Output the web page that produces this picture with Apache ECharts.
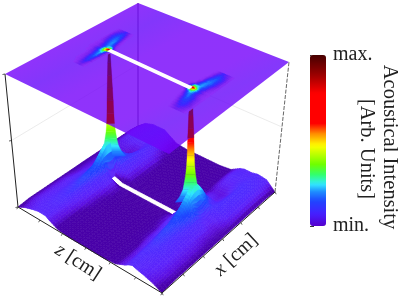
<!DOCTYPE html>
<html>
<head>
<meta charset="utf-8">
<style>html,body{margin:0;padding:0;background:#fff}#c{width:399px;height:297px;filter:blur(.35px)}</style>
<script src="https://cdn.jsdelivr.net/npm/echarts@6/dist/echarts.min.js"></script>
</head>
<body>
<div id="c"></div>
<script>
// ---------- data ----------
const zGrid = [0,.06,.12,.16,.19,.21,.24,.3,.38,.46,.54,.62,.7,.76,.79,.81,.84,.88,.94,1];
const xGrid = [0,.08,.16,.24,.32,.4,.45,.485,.515,.55,.6,.68,.76,.84,.92,1];
// floor-plane intensity in percent; one row per xGrid value, one column per zGrid value
const floorIntensity = [
[0,3,5,6,6,6,4,1,0,0,0,0,1,4,6,7,6,5,3,0],
[1,4,6,7,7,7,4,1,0,0,0,0,1,4,8,8,7,6,4,1],
[1,4,6,8,9,9,5,1,0,0,0,0,1,5,9,10,9,7,4,1],
[1,4,6,9,10,11,6,2,0,0,0,0,2,6,11,12,10,7,4,1],
[1,4,7,10,13,13,7,2,0,0,0,0,2,7,13,14,11,7,4,1],
[1,3,7,11,16,16,9,3,0,0,0,0,3,10,18,18,14,8,3,1],
[1,3,6,13,22,22,10,3,0,0,0,0,3,12,24,24,17,8,3,1],
[1,3,6,13,26,26,2,0,0,0,0,0,0,2,28,28,14,6,3,1],
[1,3,6,13,26,26,2,0,0,0,0,0,0,2,28,28,14,6,3,1],
[1,3,5,12,21,21,11,4,0,0,0,0,3,12,23,23,16,7,4,1],
[1,3,4,6,13,15,12,4,0,0,0,0,2,9,14,14,9,9,6,1],
[1,3,3,2,4,6,10,5,0,0,0,0,1,5,5,4,5,9,7,1],
[1,4,4,3,3,5,8,5,0,0,0,0,1,3,3,3,4,9,8,1],
[1,5,6,6,6,6,7,3,0,0,0,0,1,5,5,5,7,9,8,1],
[1,6,7,7,7,7,6,2,0,0,0,0,1,6,7,7,7,8,7,1],
[0,5,7,7,7,7,5,1,0,0,0,0,1,5,6,6,6,7,6,0]
];
const peakZ = [.212,.795];
const peakX = [.52,.49];
const peakTopZ = [.226,.762];
const peakTopX = [.496,.478];
const peakHeight = [.16,.2,.25,.3,.36,.42,.5,.6,.63,.7,.8,.9,1];
const peakHalfWidth = [.056,.04,.028,.023,.018,.015,.013,.0115,.011,.0095,.0075,.0055,.003];
const peakPlaneEdge = [.42,.63];
const peakSeenThrough = [[150,0,70],[85,10,140]];
const slitZ = [.24,.76];
const slitX = [.485,.515];
const planeZGridA = [.116,.146,.176,.196,.211,.226,.241,.256,.286];
const planeXGridA = [.296,.356,.416,.456,.481,.496,.511,.536,.576,.636,.696];
const planeZGridB = [.702,.732,.747,.762,.777,.792,.812,.842,.872];
const planeXGridB = [.288,.348,.408,.448,.473,.488,.503,.528,.568,.628,.688];
const planeIntensityA = [
[0,0,0,2,3,1,0,0,0],
[0,0,2,8,11,5,0,0,0],
[0,0,4,14,19,9,0,0,0],
[0,1,7,18,24,10,0,0,0],
[0,2,11,30,42,22,2,0,0],
[0,1,6,32,62,100,20,0,0],
[0,2,8,20,30,40,8,0,0],
[0,1,14,20,18,8,0,0,0],
[0,6,18,21,11,2,0,0,0],
[0,9,17,11,4,0,0,0,0],
[0,3,7,3,0,0,0,0,0]
];
const planeIntensityB = [
[0,0,0,0,0,1,3,2,0],
[0,0,0,0,2,7,11,6,0],
[0,0,0,2,9,18,14,4,0],
[0,0,0,10,22,20,8,1,0],
[0,0,12,42,40,26,12,2,0],
[0,0,20,100,62,32,8,1,0],
[0,0,10,42,32,22,12,2,0],
[0,0,0,8,18,22,16,3,0],
[0,0,0,1,10,20,19,7,0],
[0,0,0,0,3,10,17,9,0],
[0,0,0,0,0,3,7,3,0]
];
const axisTicks = [0,1/6,2/6,3/6,4/6,5/6,1];
const heightTicks = [0,.5,1];
const colorStops = [[0,[85,0,205]],[.07,[70,30,255]],[.147,[30,70,255]],[.2,[30,140,255]],[.245,[50,235,255]],[.3,[50,255,110]],[.36,[110,255,0]],[.47,[255,255,0]],[.54,[255,140,0]],[.6,[255,0,0]],[.775,[255,0,0]],[.89,[150,0,0]],[1,[70,0,0]]];
const floorStops = [[0,[72,0,168]],[.014,[72,0,172]],[.03,[92,15,225]],[.05,[92,35,250]],[.09,[78,45,255]],[.13,[45,70,255]]];
const barLabels = {0:'min.',0.5:'',1:'max.'};

// ---------- view of the box ----------
const floorC = {L:[18,207],F:[162,293],R:[275,192],B:[138,126]};
const topC   = {L:[5,74],F:[169,154],R:[289,62],B:[138,3]};
function homography(c){
  const dx1=c.F[0]-c.R[0],dx2=c.B[0]-c.R[0],sx=c.L[0]-c.F[0]+c.R[0]-c.B[0];
  const dy1=c.F[1]-c.R[1],dy2=c.B[1]-c.R[1],sy=c.L[1]-c.F[1]+c.R[1]-c.B[1];
  const den=dx1*dy2-dx2*dy1;
  const g=(sx*dy2-dx2*sy)/den,h=(dx1*sy-sx*dy1)/den;
  const a=c.F[0]-c.L[0]+g*c.F[0],b=c.B[0]-c.L[0]+h*c.B[0];
  const d=c.F[1]-c.L[1]+g*c.F[1],e=c.B[1]-c.L[1]+h*c.B[1];
  return (s,t)=>{const w=g*s+h*t+1;return [(a*s+b*t+c.L[0])/w,(d*s+e*t+c.L[1])/w];};
}
const HF=homography(floorC),HT=homography(topC);
function proj(s,t,v){const p=HF(s,t),q=HT(s,t);return [p[0]+(q[0]-p[0])*v,p[1]+(q[1]-p[1])*v];}

function ramp(stops,v){
  if(v<=stops[0][0])return stops[0][1];
  for(let i=1;i<stops.length;i++){
    if(v<=stops[i][0]){const a=stops[i-1],b=stops[i],f=(v-a[0])/(b[0]-a[0]);
      return a[1].map((x,k)=>x+(b[1][k]-x)*f);}
  }
  return stops[stops.length-1][1];
}
const rgb=c=>'rgb('+c.map(Math.round).join(',')+')';
const palette=v=>rgb(ramp(colorStops,v));
const floorColor=v=>rgb(v<.13?ramp(floorStops,v):ramp(colorStops,v));
const planeBase=[116,0,250],planeAlpha=.8;
const planeOverWhite=planeBase.map(x=>x*planeAlpha+255*(1-planeAlpha));
function planeCellColor(v){
  const c=ramp(colorStops,v),f=Math.min(1,v/.08);
  return rgb(planeOverWhite.map((x,k)=>x+(c[k]-x)*f));
}

// ---------- drawing list, back to front ----------
const items=[];
for(let j=0;j<xGrid.length-1;j++)for(let i=0;i<zGrid.length-1;i++){
  items.push({k:'cell',i,j,d:(zGrid[i]+zGrid[i+1])/2-(xGrid[j]+xGrid[j+1])/2});
}
peakZ.forEach((s,n)=>items.push({k:'peak',n,d:s-peakX[n]+.004}));
items.sort((a,b)=>a.d-b.d);

function bil(M,i,j,a,b){
  return ((M[j][i]*(1-a)+M[j][i+1]*a)*(1-b)+(M[j+1][i]*(1-a)+M[j+1][i+1]*a)*b)/100;
}
function poly(api,pts,fill,stroke){
  return {type:'polygon',shape:{points:pts.map(p=>api.coord(p))},
    style:{fill,stroke:stroke||null,lineWidth:stroke?.6:0},silent:true};
}
function peakAt(n,h,w,sign){
  const s=peakZ[n]+(peakTopZ[n]-peakZ[n])*h,t=peakX[n]+(peakTopX[n]-peakX[n])*h;
  return proj(s+sign*w,t+sign*w,h);
}
function peakShapes(api,n){
  const out=[];
  for(let r=0;r<peakHeight.length-1;r++){
    const ha=peakHeight[r],hb=peakHeight[r+1],wa=peakHalfWidth[r],wb=peakHalfWidth[r+1];
    const pts=[peakAt(n,ha,wa,-1),peakAt(n,ha,wa,1),peakAt(n,hb,wb,1),peakAt(n,hb,wb,-1)];
    const ya=api.coord(peakAt(n,ha,0,0))[1],yb=api.coord(peakAt(n,hb,0,0))[1];
    const stops=[];for(let q=0;q<=6;q++){stops.push({offset:q/6,color:palette(ha+(hb-ha)*q/6)});}
    const g=new echarts.graphic.LinearGradient(0,ya,0,yb,stops,true);
    const shape=poly(api,pts,g);
    shape.style.stroke=g;shape.style.lineWidth=.3;
    out.push(shape);
  }
  return out;
}
function peakThroughPlane(api,n){
  const out=[],e=peakPlaneEdge[n];
  for(let r=0;r<peakHeight.length-1;r++){
    const ha=peakHeight[r],hb=peakHeight[r+1];
    if(ha<e-1e-6)continue;
    const wa=peakHalfWidth[r],wb=peakHalfWidth[r+1];
    const pts=[peakAt(n,ha,wa,-1),peakAt(n,ha,wa,1),peakAt(n,hb,wb,1),peakAt(n,hb,wb,-1)];
    const f=(ha-e)/(1-e),c=peakSeenThrough[0].map((x,k)=>x+(peakSeenThrough[1][k]-x)*f);
    out.push(poly(api,pts,rgb(c),rgb(c)));
    out[out.length-1].style.lineWidth=.2;
  }
  return out;
}
function renderFloor(params,api){
  const it=items[params.dataIndex];
  if(it.k==='peak')return {type:'group',children:peakShapes(api,it.n)};
  const {i,j}=it,N=4,ch=[];
  const s0=zGrid[i],s1=zGrid[i+1],t0=xGrid[j],t1=xGrid[j+1];
  const isSlit=s0>=slitZ[0]-1e-6&&s1<=slitZ[1]+1e-6&&t0>=slitX[0]-1e-6&&t1<=slitX[1]+1e-6;
  for(let a=0;a<N;a++)for(let bb=N-1;bb>=0;bb--){
    const A=[a/N,(a+1)/N],B=[bb/N,(bb+1)/N];
    const pt=(x,y)=>proj(s0+(s1-s0)*x,t0+(t1-t0)*y,bil(floorIntensity,i,j,x,y));
    const mid=bil(floorIntensity,i,j,(A[0]+A[1])/2,(B[0]+B[1])/2);
    const col=isSlit?'#fff':floorColor(mid);
    ch.push(poly(api,[pt(A[0],B[0]),pt(A[1],B[0]),pt(A[1],B[1]),pt(A[0],B[1])],col,col));
  }
  return {type:'group',children:ch};
}
function line(api,a,b,color,width,dash){
  const p=api.coord(a),q=api.coord(b);
  return {type:'line',shape:{x1:p[0],y1:p[1],x2:q[0],y2:q[1]},
    style:{stroke:color,lineWidth:width,lineDash:dash||null},silent:true};
}
function renderBack(params,api){
  return {type:'group',children:[
    line(api,proj(0,0,.5),proj(0,1,.5),'#dedede',.6),
    line(api,proj(1,1,.5),proj(0,1,.5),'#dedede',.6),
    line(api,proj(0,1,0),proj(0,1,1),'#201030',.8)
  ]};
}
function renderFront(params,api){
  const ch=[
    line(api,proj(0,0,0),proj(0,0,1),'#222',1),
    line(api,proj(1,1,0),proj(1,1,1),'#666',1,[4,1.5]),
    line(api,proj(0,0,0),proj(1,0,0),'#222',1),
    line(api,proj(1,0,0),proj(1,1,0),'#222',1)
  ];
  axisTicks.forEach(v=>{
    const a=proj(v,0,0),b=proj(1,v,0);
    ch.push(line(api,a,[a[0]-1.2,a[1]+2.2],'#333',.8));
    ch.push(line(api,b,[b[0]+1.2,b[1]+2.2],'#333',.8));
  });
  heightTicks.forEach(h=>{const a=proj(0,0,h);ch.push(line(api,a,[a[0]-2.5,a[1]+.5],'#333',.8));});
  return {type:'group',children:ch};
}
function planeCells(api,M,Z,X){
  const ch=[],N=3;
  for(let j=0;j<X.length-1;j++)for(let i=0;i<Z.length-1;i++){
    if(M[j][i]+M[j][i+1]+M[j+1][i]+M[j+1][i+1]===0)continue;
    for(let a=0;a<N;a++)for(let b=0;b<N;b++){
      const s0=Z[i]+(Z[i+1]-Z[i])*a/N,s1=Z[i]+(Z[i+1]-Z[i])*(a+1)/N;
      const t0=X[j]+(X[j+1]-X[j])*b/N,t1=X[j]+(X[j+1]-X[j])*(b+1)/N;
      const v=bil(M,i,j,(a+.5)/N,(b+.5)/N);
      if(v<=.002)continue;
      const c=planeCellColor(v);
      ch.push(poly(api,[proj(s0,t0,1),proj(s1,t0,1),proj(s1,t1,1),proj(s0,t1,1)],c,c));
    }
  }
  return ch;
}
function renderPlane(params,api){
  const corner=[proj(0,0,1),proj(1,0,1),proj(1,1,1),proj(0,1,1)];
  const L=api.coord(corner[0]);
  const tint=(a)=>'rgba(104,10,250,'+a+')';
  const base='rgba('+planeBase.join(',')+','+planeAlpha+')';
  const g=new echarts.graphic.LinearGradient(L[0],L[1],L[0]+70,L[1]+130,[
    {offset:0,color:base},{offset:.16,color:tint(.82)},{offset:.34,color:base},
    {offset:.66,color:base},{offset:.82,color:tint(.81)},{offset:1,color:base}],true);
  const ch=[poly(api,corner,g)];
  peakZ.forEach((_,n)=>{peakThroughPlane(api,n).forEach(x=>ch.push(x));});
  planeCells(api,planeIntensityA,planeZGridA,planeXGridA).forEach(x=>ch.push(x));
  planeCells(api,planeIntensityB,planeZGridB,planeXGridB).forEach(x=>ch.push(x));
  const hw=(slitX[1]-slitX[0])/2;
  ch.push(poly(api,[proj(peakTopZ[0],peakTopX[0]-hw,1),proj(peakTopZ[1],peakTopX[1]-hw,1),proj(peakTopZ[1],peakTopX[1]+hw,1),proj(peakTopZ[0],peakTopX[0]+hw,1)],'#fff'));
  return {type:'group',children:ch};
}

const serif='"Liberation Serif","Times New Roman",serif';
const chart=echarts.init(document.getElementById('c'),null,{renderer:'canvas'});
const barColors=[];for(let i=0;i<=50;i++)barColors.push(palette(i/50));
const custom=(name,render,data,z)=>({type:'custom',name,coordinateSystem:'cartesian2d',xAxisIndex:0,yAxisIndex:0,
  renderItem:render,data,clip:false,silent:true,z,progressive:0,encode:{x:0,y:1},animation:false});
chart.setOption({
  animation:false,
  backgroundColor:'#fff',
  tooltip:{show:false},
  grid:[{left:0,top:0,width:399,height:297,containLabel:false},{left:310,top:55,width:16,height:171}],
  xAxis:[{type:'value',min:0,max:399,show:false,gridIndex:0},{type:'value',min:0,max:1,show:false,gridIndex:1}],
  yAxis:[{type:'value',min:0,max:297,inverse:true,show:false,gridIndex:0},
    {type:'value',gridIndex:1,min:0,max:1,interval:.5,position:'right',offset:1,splitLine:{show:false},
     axisLine:{show:false},axisTick:{show:true,length:4,lineStyle:{color:'#333',width:1}},
     axisLabel:{show:true,margin:6,color:'#222',fontFamily:serif,fontSize:20,formatter:v=>barLabels[v]}}],
  visualMap:[{type:'continuous',min:0,max:1,left:310,top:55,itemWidth:16,itemHeight:171,padding:0,
    calculable:false,showLabel:false,text:null,seriesIndex:[3],inRange:{color:barColors},realtime:false,silent:true}],
  graphic:[
    {type:'text',x:389,y:147,rotation:-Math.PI/2,silent:true,style:{text:'Acoustical Intensity',fontFamily:serif,fontSize:20.5,fill:'#222',align:'center',verticalAlign:'middle'}},
    {type:'text',x:366,y:149,rotation:-Math.PI/2,silent:true,style:{text:'[Arb. Units]',fontFamily:serif,fontSize:20.5,fill:'#222',align:'center',verticalAlign:'middle'}},
    {type:'text',x:78,y:262,rotation:-33*Math.PI/180,silent:true,style:{text:'{i|z} [cm]',fontFamily:serif,fontSize:20,fill:'#222',align:'center',verticalAlign:'middle',rich:{i:{fontStyle:'italic',fontFamily:serif,fontSize:20,fill:'#222'}}}},
    {type:'text',x:236,y:255,rotation:43*Math.PI/180,silent:true,style:{text:'{i|x} [cm]',fontFamily:serif,fontSize:20,fill:'#222',align:'center',verticalAlign:'middle',rich:{i:{fontStyle:'italic',fontFamily:serif,fontSize:20,fill:'#222'}}}}
  ],
  series:[
    custom('walls',renderBack,[[0,0]],1),
    custom('floor',renderFloor,items.map((_,k)=>[k,0]),2),
    custom('plane',renderPlane,[[0,0]],3),
    custom('frame',renderFront,[[0,0]],4)
  ]
});
</script>
</body>
</html>
